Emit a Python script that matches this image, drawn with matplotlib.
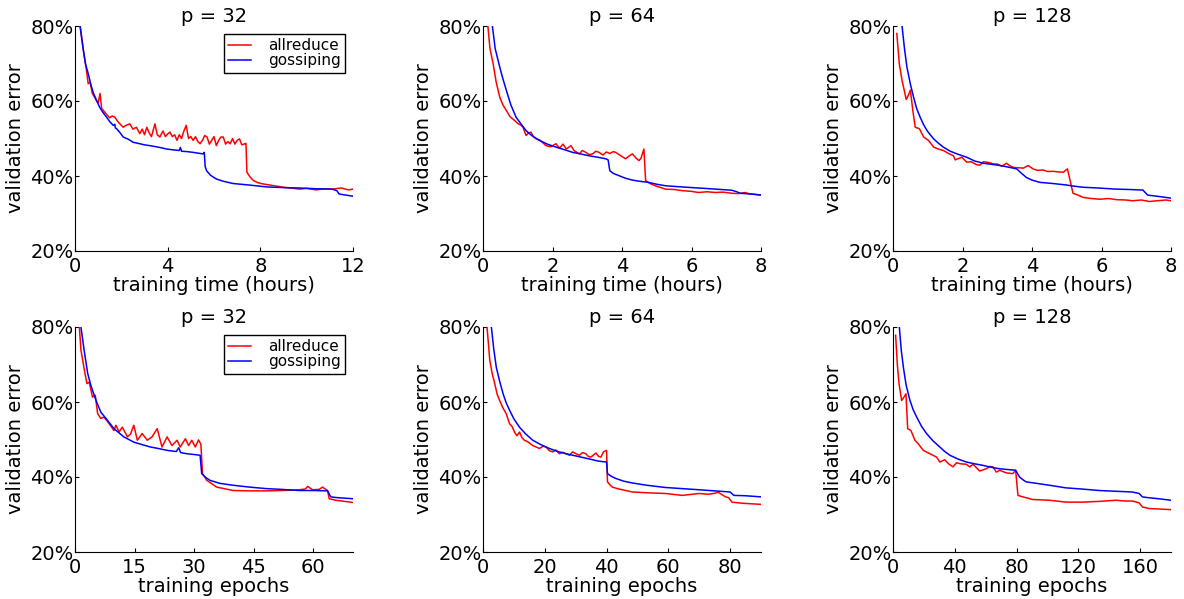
import numpy as np
import matplotlib
matplotlib.use("Agg")
import matplotlib.pyplot as plt

# ---- p = 32, training time (hours) ----
t32_ar = [0.22, 0.36, 0.50, 0.57, 0.65, 0.75, 0.85, 0.93, 1.00, 1.08,
          1.15, 1.22, 1.35, 1.50, 1.60, 1.72, 1.85, 2.00, 2.08, 2.20,
          2.37, 2.50, 2.65, 2.80, 2.90, 3.00, 3.10, 3.20, 3.30, 3.45,
          3.55, 3.66, 3.80, 3.90, 4.00, 4.10, 4.20, 4.30, 4.40, 4.50,
          4.60, 4.70, 4.80, 4.90, 5.00, 5.10, 5.20, 5.30, 5.40, 5.50,
          5.60, 5.70, 5.80, 5.90, 6.00, 6.10, 6.20, 6.30, 6.40, 6.50,
          6.60, 6.70, 6.80, 6.90, 7.00, 7.10, 7.20, 7.33, 7.38, 7.42,
          7.55, 7.70, 7.90, 8.10, 8.50, 9.00, 9.30, 9.70, 10.0, 10.4,
          10.8, 11.1, 11.5, 11.8, 12.0]
e32_ar_t = [80.0, 73.6, 68.0, 64.6, 65.0, 62.0, 61.0, 60.0, 59.5, 62.0,
            58.0, 57.5, 56.5, 55.5, 56.0, 55.7, 54.5, 53.5, 53.0, 53.5,
            53.9, 52.5, 53.0, 51.3, 52.5, 51.0, 53.0, 51.5, 50.5, 53.9,
            51.0, 50.4, 52.0, 50.5, 51.2, 51.7, 50.5, 51.0, 49.5, 51.0,
            50.0, 52.0, 53.5, 50.0, 50.5, 49.5, 50.5, 49.2, 48.6, 49.5,
            50.8, 50.4, 48.5, 49.5, 50.5, 48.1, 49.5, 50.4, 50.4, 48.5,
            49.2, 48.6, 50.0, 48.5, 49.5, 49.9, 48.3, 48.6, 48.7, 41.0,
            39.8, 38.8, 38.2, 37.9, 37.5, 37.0, 36.8, 36.5, 36.7, 36.3,
            36.6, 36.5, 36.8, 36.3, 36.5]
t32_go = [0.22, 0.35, 0.45, 0.57, 0.70, 0.80, 0.93, 1.05, 1.20, 1.36,
          1.50, 1.65, 1.72, 1.74, 1.80, 1.95, 2.08, 2.30, 2.51, 2.80,
          3.00, 3.23, 3.50, 3.75, 3.95, 4.20, 4.50, 4.55, 4.60, 4.85,
          5.10, 5.30, 5.53, 5.58, 5.62, 5.68, 5.85, 6.10, 6.40, 6.82,
          7.50, 8.26, 9.00, 9.70, 10.4, 11.1, 11.3, 11.4, 11.7, 12.0]
e32_go_t = [80.0, 74.0, 70.0, 67.3, 64.0, 62.0, 60.2, 58.5, 57.0, 55.7,
            54.5, 53.5, 53.8, 52.8, 52.6, 51.5, 50.4, 49.8, 49.0, 48.6,
            48.3, 48.1, 47.8, 47.5, 47.2, 47.0, 46.8, 47.6, 46.6, 46.5,
            46.3, 46.1, 45.9, 46.3, 42.5, 41.4, 40.2, 39.2, 38.6, 38.0,
            37.6, 37.1, 36.9, 36.8, 36.6, 36.5, 36.1, 35.2, 34.9, 34.6]

# ---- p = 64, training time (hours) ----
t64_ar = [0.14, 0.20, 0.29, 0.38, 0.48, 0.57, 0.67, 0.78, 0.91, 1.00,
          1.10, 1.15, 1.24, 1.31, 1.38, 1.45, 1.53, 1.65, 1.81, 1.95,
          2.10, 2.20, 2.30, 2.40, 2.53, 2.62, 2.77, 2.86, 2.96, 3.05,
          3.15, 3.25, 3.34, 3.45, 3.55, 3.65, 3.75, 3.82, 3.95, 4.10,
          4.20, 4.30, 4.40, 4.49, 4.55, 4.63, 4.68, 4.75, 4.85, 4.96,
          5.25, 5.50, 5.73, 6.00, 6.20, 6.45, 6.68, 6.90, 7.16, 7.35,
          7.54, 7.65, 7.73, 7.85, 8.00]
e64_ar_t = [80.0, 74.0, 70.0, 65.0, 61.1, 59.0, 57.5, 55.8, 54.8, 54.0,
            53.5, 53.0, 50.8, 51.5, 51.7, 50.5, 49.9, 49.5, 48.1, 47.8,
            48.6, 47.4, 48.5, 47.2, 48.1, 46.8, 45.9, 46.8, 46.3, 45.7,
            45.9, 46.6, 46.3, 45.6, 46.4, 46.0, 46.5, 46.3, 45.5, 44.6,
            45.3, 45.9, 44.8, 44.1, 44.8, 47.2, 38.8, 38.3, 37.8, 37.4,
            36.5, 36.4, 36.1, 35.9, 35.6, 35.8, 35.6, 35.7, 35.4, 35.3,
            35.6, 35.3, 35.2, 35.1, 34.9]
t64_go = [0.27, 0.35, 0.48, 0.57, 0.67, 0.80, 0.95, 1.10, 1.24, 1.40,
          1.62, 1.85, 2.10, 2.35, 2.58, 2.80, 3.05, 3.30, 3.53, 3.60,
          3.65, 3.75, 3.91, 4.10, 4.30, 4.50, 4.77, 5.00, 5.25, 5.70,
          6.20, 6.70, 7.16, 7.30, 7.40, 7.70, 8.00]
e64_go_t = [80.0, 74.0, 69.1, 66.0, 62.9, 59.0, 55.7, 53.8, 52.1, 50.8,
            49.5, 48.5, 47.7, 47.0, 46.3, 45.9, 45.4, 45.0, 44.6, 44.3,
            41.4, 40.7, 40.1, 39.4, 38.9, 38.6, 38.3, 37.8, 37.4, 37.1,
            36.8, 36.5, 36.2, 35.8, 35.4, 35.2, 34.9]

# ---- p = 128, training time (hours) ----
t128_ar = [0.11, 0.18, 0.26, 0.32, 0.38, 0.44, 0.50, 0.57, 0.64, 0.76,
           0.88, 1.02, 1.17, 1.30, 1.45, 1.60, 1.74, 1.79, 1.98, 2.12,
           2.25, 2.41, 2.50, 2.60, 2.75, 2.89, 3.00, 3.13, 3.27, 3.35,
           3.46, 3.60, 3.75, 3.89, 4.03, 4.15, 4.32, 4.45, 4.61, 4.75,
           4.90, 5.02, 5.18, 5.30, 5.47, 5.70, 5.95, 6.20, 6.42, 6.70,
           6.90, 7.15, 7.38, 7.60, 7.86, 8.00]
e128_ar_t = [78.0, 70.0, 65.5, 63.0, 60.4, 61.5, 62.9, 57.5, 53.0, 52.6,
             50.4, 49.5, 47.7, 47.2, 46.8, 46.0, 45.4, 44.3, 45.0, 43.7,
             43.8, 43.0, 42.9, 43.8, 43.6, 43.2, 43.2, 42.6, 43.4, 42.8,
             42.3, 42.2, 42.1, 42.8, 41.9, 41.5, 41.6, 41.2, 41.25, 41.1,
             41.0, 41.9, 35.4, 35.0, 34.3, 34.0, 33.8, 34.0, 33.7, 33.6,
             33.4, 33.6, 33.2, 33.4, 33.6, 33.4]
t128_go = [0.26, 0.33, 0.40, 0.50, 0.59, 0.68, 0.78, 0.88, 0.98, 1.08,
           1.17, 1.30, 1.45, 1.65, 1.84, 2.12, 2.35, 2.60, 2.85, 3.08,
           3.30, 3.56, 3.70, 3.84, 4.00, 4.23, 4.60, 4.99, 5.20, 5.47,
           5.90, 6.42, 6.80, 7.19, 7.33, 7.60, 8.00]
e128_go_t = [80.0, 74.0, 69.1, 64.5, 61.1, 58.0, 55.7, 53.7, 52.1, 50.9,
             49.9, 48.8, 47.7, 46.6, 45.9, 45.0, 44.0, 43.4, 43.1, 42.8,
             42.4, 41.9, 40.7, 39.6, 38.9, 38.3, 38.0, 37.6, 37.3, 37.0,
             36.8, 36.5, 36.4, 36.25, 34.9, 34.6, 34.1]

# ---- p = 32, training epochs ----
ep32_ar = [1.1, 1.5, 2.3, 3.0, 3.6, 4.4, 5.1, 5.7, 6.5, 7.3,
           8.6, 9.8, 10.3, 11.1, 11.9, 13.2, 14.0, 14.8, 15.7, 16.9,
           18.2, 19.4, 20.7, 21.9, 23.2, 24.4, 25.7, 26.5, 27.8, 28.6,
           29.4, 30.3, 31.1, 31.7, 32.1, 33.2, 35.7, 39.8, 44.0, 48.2,
           52.3, 56.5, 58.0, 58.6, 59.8, 61.5, 62.3, 63.6, 64.0, 65.7,
           70.0]
e32_ar_e = [80.0, 73.8, 68.9, 64.9, 65.3, 61.3, 61.8, 56.9, 55.6, 56.0,
            54.2, 52.4, 53.8, 52.0, 53.3, 50.7, 51.5, 53.8, 49.8, 51.6,
            49.8, 50.7, 52.9, 48.0, 50.7, 48.4, 49.8, 48.0, 50.2, 48.4,
            49.8, 48.0, 49.9, 48.7, 40.9, 39.1, 37.3, 36.4, 36.3, 36.3,
            36.4, 36.6, 36.8, 37.5, 36.6, 36.7, 37.3, 36.4, 34.2, 33.8,
            33.2]
ep32_go = [1.5, 2.3, 3.2, 4.0, 5.3, 6.5, 8.2, 9.8, 12.3, 14.8,
           17.0, 19.0, 21.0, 23.2, 25.5, 26.1, 26.6, 28.2, 30.0, 31.5,
           31.9, 33.0, 34.0, 36.5, 39.8, 44.0, 48.2, 52.0, 56.5, 60.0,
           63.6, 64.4, 66.0, 70.0]
e32_go_e = [80.0, 73.8, 67.6, 64.4, 60.4, 57.3, 55.1, 52.9, 50.7, 49.3,
            48.6, 48.0, 47.6, 47.1, 46.8, 47.8, 46.5, 46.2, 46.0, 45.8,
            40.9, 39.8, 39.1, 38.3, 37.8, 37.3, 36.9, 36.7, 36.4, 36.4,
            36.3, 34.7, 34.5, 34.2]

# ---- p = 64, training epochs ----
ep64_ar = [1.3, 2.2, 3.0, 3.8, 4.6, 5.4, 6.4, 7.5, 8.6, 9.4,
           10.2, 11.0, 11.8, 12.6, 13.4, 14.5, 16.1, 17.2, 18.3, 19.4,
           20.4, 21.5, 22.6, 23.6, 24.7, 25.8, 26.9, 28.0, 29.0, 30.1,
           31.2, 32.2, 33.3, 34.1, 34.9, 35.8, 36.6, 37.4, 38.2, 39.0,
           40.0, 40.3, 41.0, 41.9, 44.0, 48.4, 53.0, 59.1, 64.5, 69.9,
           73.0, 75.3, 76.0, 78.5, 79.5, 80.6, 84.0, 90.0]
e64_ar_e = [80.0, 71.1, 67.5, 64.9, 62.0, 60.4, 58.5, 56.9, 54.2, 53.5,
            52.0, 51.0, 52.0, 50.5, 49.8, 49.4, 48.4, 48.0, 47.6, 48.2,
            48.0, 47.0, 46.7, 47.2, 46.2, 46.6, 46.2, 45.8, 46.7, 46.2,
            45.8, 46.5, 46.2, 45.5, 45.3, 45.9, 46.4, 45.5, 45.3, 46.7,
            47.1, 38.7, 38.0, 37.3, 36.8, 36.0, 35.8, 35.6, 35.1, 35.6,
            35.4, 35.7, 36.0, 34.7, 34.5, 33.3, 33.0, 32.7]
ep64_go = [2.7, 3.5, 4.3, 5.4, 6.5, 7.5, 8.6, 10.0, 11.8, 13.8,
           16.1, 18.8, 21.5, 24.2, 26.9, 29.6, 32.3, 35.0, 37.6, 40.0,
           40.3, 41.5, 43.0, 45.5, 48.4, 53.0, 59.1, 64.5, 69.9, 75.0,
           80.0, 81.2, 85.0, 90.0]
e64_go_e = [80.0, 74.0, 69.3, 65.5, 62.2, 59.8, 57.8, 55.5, 53.3, 51.5,
            49.8, 48.6, 47.6, 46.8, 46.2, 45.7, 45.2, 44.7, 44.2, 44.0,
            40.9, 40.2, 39.6, 38.9, 38.4, 37.8, 37.2, 36.9, 36.6, 36.3,
            36.0, 35.1, 35.0, 34.7]

# ---- p = 128, training epochs ----
ep128_ar = [1.7, 2.8, 3.9, 4.8, 5.6, 7.1, 8.4, 9.5, 11.6, 14.2,
            16.3, 19.6, 23.9, 28.2, 30.3, 33.5, 36.0, 38.9, 41.1, 44.0,
            47.5, 49.7, 51.8, 54.0, 56.1, 60.4, 62.5, 64.7, 66.9, 69.0,
            73.3, 77.6, 79.4, 80.9, 84.1, 90.5, 101.3, 112.0, 122.8, 133.5,
            144.3, 150.0, 155.0, 159.4, 161.5, 165.8, 180.0]
e128_ar_e = [77.8, 70.0, 64.9, 62.5, 60.4, 61.3, 62.2, 52.9, 52.4, 49.8,
             48.9, 47.1, 46.2, 45.3, 44.0, 44.6, 43.5, 42.7, 43.8, 43.5,
             43.4, 42.7, 43.4, 42.5, 41.6, 42.2, 42.8, 42.7, 41.3, 41.8,
             41.1, 40.9, 41.8, 35.1, 34.7, 34.0, 33.8, 33.3, 33.3, 33.5,
             33.8, 33.6, 33.6, 33.1, 32.0, 31.6, 31.3]
ep128_go = [4.1, 5.3, 6.7, 8.5, 11.0, 13.0, 15.3, 18.5, 21.7, 26.0,
            30.3, 33.5, 36.8, 42.0, 47.5, 53.0, 58.3, 63.5, 69.0, 74.0,
            79.4, 81.9, 84.0, 86.2, 93.0, 101.3, 112.0, 122.0, 133.5, 144.0,
            155.0, 159.4, 161.5, 165.0, 172.0, 180.0]
e128_go_e = [80.0, 74.0, 69.3, 64.5, 60.4, 58.0, 56.0, 53.5, 51.6, 49.6,
             48.0, 46.8, 45.8, 44.8, 44.0, 43.5, 43.1, 42.6, 42.2, 42.0,
             41.8, 40.0, 39.3, 38.7, 38.3, 37.8, 37.1, 36.8, 36.4, 36.2,
             36.0, 35.6, 34.7, 34.5, 34.2, 33.8]

titles = ["p = 32", "p = 64", "p = 128"]
y_ticks = [20, 40, 60, 80]

panels = [
    # (row, col, x_ar, y_ar, x_go, y_go, xmax, xticks, xlabel, legend)
    (0, 0, t32_ar, e32_ar_t, t32_go, e32_go_t, 12, [0, 4, 8, 12], "training time (hours)", True),
    (0, 1, t64_ar, e64_ar_t, t64_go, e64_go_t, 8, [0, 2, 4, 6, 8], "training time (hours)", False),
    (0, 2, t128_ar, e128_ar_t, t128_go, e128_go_t, 8, [0, 2, 4, 6, 8], "training time (hours)", False),
    (1, 0, ep32_ar, e32_ar_e, ep32_go, e32_go_e, 70, [0, 15, 30, 45, 60], "training epochs", True),
    (1, 1, ep64_ar, e64_ar_e, ep64_go, e64_go_e, 90, [0, 20, 40, 60, 80], "training epochs", False),
    (1, 2, ep128_ar, e128_ar_e, ep128_go, e128_go_e, 180, [0, 40, 80, 120, 160], "training epochs", False),
]

W, H = 1184, 599
lefts = [75, 483, 893]
tops = [26, 327]
aw, ah = 278, 225
fs = 14

fig = plt.figure(figsize=(W / 100, H / 100), dpi=100)

for row, col, xa, ya, xg, yg, xmax, xt, xl, leg in panels:
    ax = fig.add_axes([lefts[col] / W, (H - tops[row] - ah) / H, aw / W, ah / H])
    ax.plot(xa, ya, color="red", lw=1.1, label="allreduce")
    ax.plot(xg, yg, color="blue", lw=1.1, label="gossiping")
    ax.set_xlim(0, xmax)
    ax.set_ylim(20, 80)
    ax.set_xticks(xt)
    ax.set_yticks(y_ticks)
    ax.set_yticklabels([f"{v}%" for v in y_ticks])
    ax.spines["top"].set_visible(False)
    ax.spines["right"].set_visible(False)
    ax.tick_params(direction="in", length=3, width=0.8, labelsize=fs, top=False, right=False)
    ax.tick_params(axis="y", pad=1)
    ax.tick_params(axis="x", pad=4)
    ax.set_title(titles[col], fontsize=fs, pad=3)
    ax.set_xlabel(xl, fontsize=fs, labelpad=0)
    ax.set_ylabel("validation error", fontsize=fs, labelpad=4)
    if leg:
        ax.legend(loc="upper right", fontsize=11, handlelength=1.5, handletextpad=1.1,
                  borderpad=0.3, labelspacing=0.0, borderaxespad=0.5,
                  fancybox=False, edgecolor="black", framealpha=1)

fig.savefig("out.png", dpi=100)
